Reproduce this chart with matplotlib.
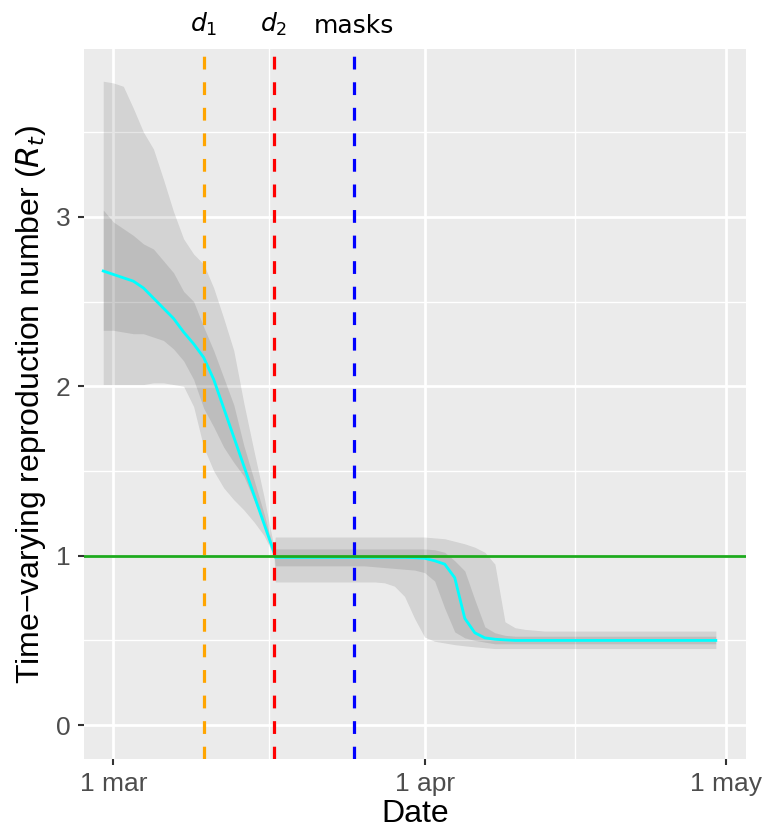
import matplotlib
matplotlib.use("Agg")
import matplotlib.pyplot as plt
import pandas as pd

# dates: daily from 29 feb to 30 apr, with an extra point just after the 17 mar change
dates = list(pd.date_range("2020-02-29", "2020-04-30", freq="D"))
dates.insert(18, pd.Timestamp("2020-03-17 03:00"))

rt_median = [2.68, 2.66, 2.64, 2.62, 2.58, 2.52, 2.46, 2.40, 2.32, 2.25, 2.17, 2.04,
             1.87, 1.70, 1.53, 1.36, 1.19, 1.02,
             0.99,
             0.99, 0.99, 0.99, 0.99, 0.99, 0.99, 0.99, 0.99, 0.99, 0.99, 0.99, 0.99,
             0.99, 0.988,
             0.985, 0.97, 0.95, 0.87, 0.63, 0.545, 0.515, 0.507, 0.503, 0.50,
             0.50, 0.50, 0.50, 0.50, 0.50, 0.50, 0.50, 0.50, 0.50, 0.50,
             0.50, 0.50, 0.50, 0.50, 0.50, 0.50, 0.50, 0.50, 0.50, 0.50]
dark_upper = [3.04, 2.97, 2.93, 2.89, 2.84, 2.81, 2.74, 2.67, 2.56, 2.50, 2.35, 2.21,
              2.05, 1.89, 1.65, 1.45, 1.25, 1.03,
              1.04,
              1.04, 1.04, 1.04, 1.04, 1.04, 1.04, 1.04, 1.04, 1.04, 1.04, 1.04, 1.04,
              1.04, 1.04,
              1.04, 1.035, 1.02, 0.97, 0.91, 0.74, 0.58, 0.545, 0.53, 0.525,
              0.525, 0.525, 0.525, 0.525, 0.525, 0.525, 0.525, 0.525, 0.525, 0.525,
              0.525, 0.525, 0.525, 0.525, 0.525, 0.525, 0.525, 0.525, 0.525, 0.525]
dark_lower = [2.33, 2.33, 2.32, 2.31, 2.31, 2.29, 2.27, 2.22, 2.15, 2.04, 1.87, 1.76,
              1.64, 1.55, 1.47, 1.33, 1.18, 1.01,
              0.94,
              0.94, 0.94, 0.94, 0.94, 0.94, 0.94, 0.94, 0.94, 0.94, 0.935, 0.93, 0.925,
              0.92, 0.915,
              0.90, 0.85, 0.69, 0.55, 0.515, 0.50, 0.49, 0.48, 0.48, 0.48,
              0.48, 0.48, 0.48, 0.48, 0.48, 0.48, 0.48, 0.48, 0.48, 0.48,
              0.48, 0.48, 0.48, 0.48, 0.48, 0.48, 0.48, 0.48, 0.48, 0.48]
light_upper = [3.80, 3.79, 3.77, 3.64, 3.50, 3.40, 3.22, 3.03, 2.87, 2.78, 2.72, 2.58,
               2.40, 2.21, 1.90, 1.62, 1.35, 1.05,
               1.11,
               1.11, 1.11, 1.11, 1.11, 1.11, 1.11, 1.11, 1.11, 1.11, 1.11, 1.11, 1.11,
               1.11, 1.11,
               1.11, 1.105, 1.10, 1.085, 1.07, 1.05, 1.02, 0.95, 0.61, 0.575,
               0.565, 0.56, 0.555, 0.555, 0.555, 0.555, 0.555, 0.555, 0.555, 0.555,
               0.555, 0.555, 0.555, 0.555, 0.555, 0.555, 0.555, 0.555, 0.555, 0.555]
light_lower = [2.01, 2.01, 2.01, 2.01, 2.01, 2.02, 2.02, 2.01, 2.00, 1.88, 1.64, 1.50,
               1.40, 1.33, 1.27, 1.20, 1.12, 1.00,
               0.845,
               0.845, 0.845, 0.845, 0.845, 0.845, 0.845, 0.845, 0.845, 0.845, 0.845,
               0.84, 0.82, 0.76, 0.63,
               0.52, 0.495, 0.485, 0.475, 0.468, 0.462, 0.457, 0.452, 0.452, 0.452,
               0.452, 0.452, 0.452, 0.452, 0.452, 0.452, 0.452, 0.452, 0.452, 0.452,
               0.452, 0.452, 0.452, 0.452, 0.452, 0.452, 0.452, 0.452, 0.452, 0.452]

event_dates = ["2020-03-10", "2020-03-17", "2020-03-25"]
event_labels = [r"$\mathit{d_1}$", r"$\mathit{d_2}$", "masks"]
event_colors = ["#FFA500", "#FF0000", "#0000FF"]

x_ticks = ["2020-03-01", "2020-04-01", "2020-05-01"]
x_labels = ["1 mar", "1 apr", "1 may"]
y_ticks = [0, 1, 2, 3]

fig = plt.figure(figsize=(7.72, 8.31), dpi=100)
ax = fig.add_axes([0.1088, 0.0866, 0.8575, 0.8544])
ax.set_facecolor("#EBEBEB")
for s in ax.spines.values():
    s.set_visible(False)

ax.fill_between(dates, light_lower, light_upper, color="black", alpha=0.1, lw=0, zorder=2)
ax.fill_between(dates, dark_lower, dark_upper, color="black", alpha=0.1, lw=0, zorder=2)
ax.plot(dates, rt_median, color="#00FFFF", lw=2.0, zorder=3)
ax.axhline(1, color="#1DAA1D", lw=2.0, zorder=4)
for d, c in zip(event_dates, event_colors):
    ax.axvline(pd.Timestamp(d), color=c, lw=2.3, dashes=(4, 4), zorder=4)

ax.set_xlim(pd.Timestamp("2020-02-27 02:00"), pd.Timestamp("2020-05-03"))
ax.set_ylim(-0.2, 3.99)

ax.set_xticks([pd.Timestamp(t) for t in x_ticks])
ax.set_xticklabels(x_labels)
ax.set_xticks([pd.Timestamp("2020-03-16 12:00"), pd.Timestamp("2020-04-16")], minor=True)
ax.set_yticks(y_ticks)
ax.set_yticks([0.5, 1.5, 2.5, 3.5], minor=True)

ax.grid(which="major", color="white", lw=2.0, zorder=1)
ax.grid(which="minor", color="white", lw=1.0, zorder=1)
ax.set_axisbelow(True)
ax.tick_params(which="major", length=4.5, width=1.5, color="#333333",
               labelsize=19, labelcolor="#4D4D4D", pad=5)
ax.tick_params(which="minor", length=0)
for lab in ax.get_xticklabels() + ax.get_yticklabels():
    lab.set_family("Liberation Sans")

ax.set_xlabel("Date", fontsize=23, family="Liberation Sans", labelpad=2)
ax.set_ylabel("Time\u2212varying reproduction number ($\\mathit{R_t}$)", fontsize=23,
              family="Liberation Sans", labelpad=6)

top = ax.secondary_xaxis("top")
top.set_xticks([pd.Timestamp(d) for d in event_dates])
top.set_xticklabels(event_labels)
top.tick_params(length=0, labelsize=18, pad=8)
top.spines["top"].set_visible(False)

fig.savefig("out.png", dpi=100)
